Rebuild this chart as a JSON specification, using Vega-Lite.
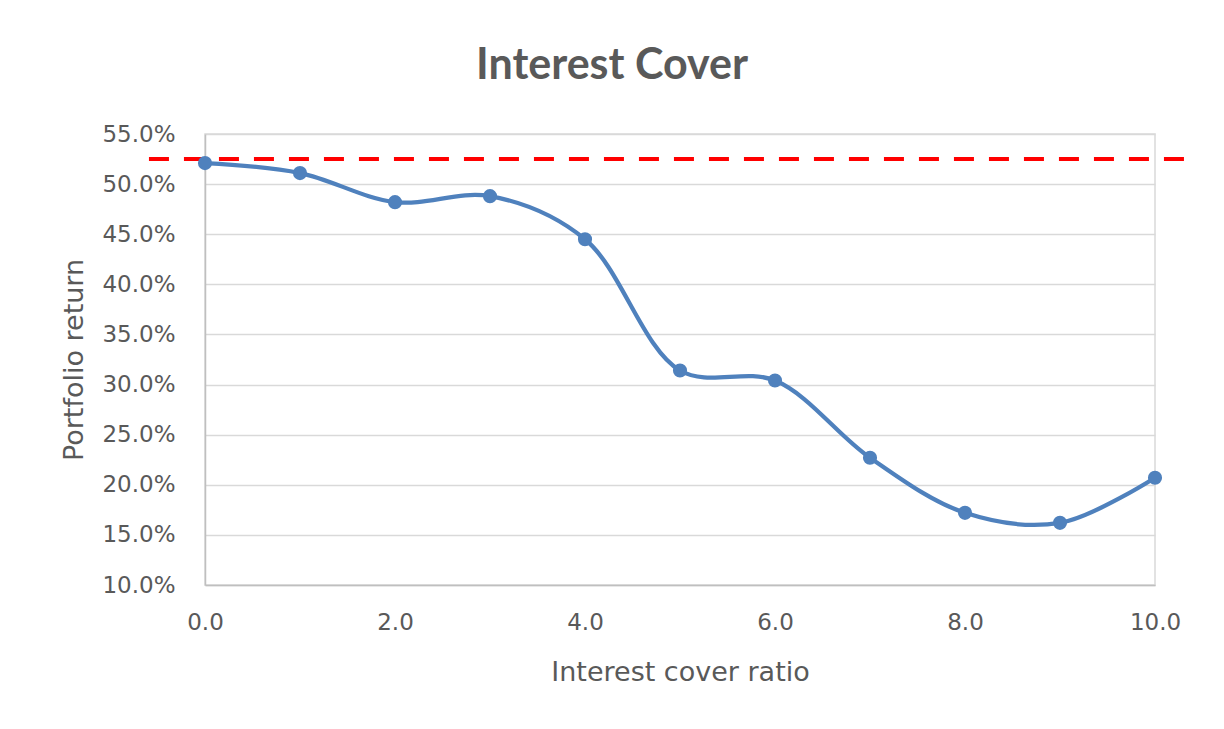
{
  "$schema": "https://vega.github.io/schema/vega-lite/v6.json",
  "width": 950,
  "height": 451,
  "autosize": "none",
  "padding": {"left": 205, "top": 134, "right": 69, "bottom": 144},
  "background": "white",
  "title": {"text": "Interest Cover", "font": "Lato", "fontSize": 43, "fontWeight": "bold", "color": "#595959", "anchor": "middle", "frame": "group", "dx": -68, "offset": 35},
  "config": {
    "view": {"stroke": "#d9d9d9", "strokeWidth": 1.5},
    "axis": {
      "labelFont": "DejaVu Sans", "labelFontSize": 23, "labelColor": "#595959", "labelFlush": false,
      "titleFont": "DejaVu Sans", "titleFontSize": 27, "titleColor": "#595959", "titleFontWeight": "normal",
      "gridColor": "#d9d9d9", "gridWidth": 1.5,
      "domainColor": "#bfbfbf", "domainWidth": 1.5,
      "ticks": false, "tickSize": 0
    }
  },
  "data": {"values": [
    {"ratio": 0, "return": 0.521},
    {"ratio": 1, "return": 0.511},
    {"ratio": 2, "return": 0.482},
    {"ratio": 3, "return": 0.488},
    {"ratio": 4, "return": 0.445},
    {"ratio": 5, "return": 0.314},
    {"ratio": 6, "return": 0.304},
    {"ratio": 7, "return": 0.227},
    {"ratio": 8, "return": 0.172},
    {"ratio": 9, "return": 0.162},
    {"ratio": 10, "return": 0.207}
  ]},
  "layer": [
    {"data": {"values": [{"level": 0.525}]},
     "mark": {"type": "rule", "color": "#ff0000", "strokeWidth": 4, "strokeDash": [20, 15], "clip": false},
     "encoding": {
       "x": {"datum": -0.59, "type": "quantitative", "scale": {"domain": [0, 10], "nice": false, "zero": false}},
       "x2": {"datum": 10.35},
       "y": {"field": "level", "type": "quantitative", "scale": {"domain": [0.1, 0.55], "nice": false, "zero": false}}
     }},
    {"mark": {"type": "line", "interpolate": "catmull-rom", "color": "#4f81bd", "strokeWidth": 4.25},
     "encoding": {
      "x": {"field": "ratio", "type": "quantitative",
        "scale": {"domain": [0, 10], "nice": false, "zero": false},
        "axis": {"title": "Interest cover ratio", "values": [0,1,2,3,4,5,6,7,8,9,10],
          "labelExpr": "datum.value % 2 === 0 ? format(datum.value, '.1f') : ''",
          "labelPadding": 26, "titlePadding": 25}},
      "y": {"field": "return", "type": "quantitative",
        "scale": {"domain": [0.1, 0.55], "nice": false, "zero": false},
        "axis": {"title": "Portfolio return", "values": [0.1,0.15,0.2,0.25,0.3,0.35,0.4,0.45,0.5,0.55],
          "format": ".1%", "labelPadding": 30, "titlePadding": 13}}
     }},
    {"mark": {"type": "point", "filled": true, "size": 200, "color": "#4f81bd", "opacity": 1},
     "encoding": {
      "x": {"field": "ratio", "type": "quantitative"},
      "y": {"field": "return", "type": "quantitative"}
     }}
  ]
}
